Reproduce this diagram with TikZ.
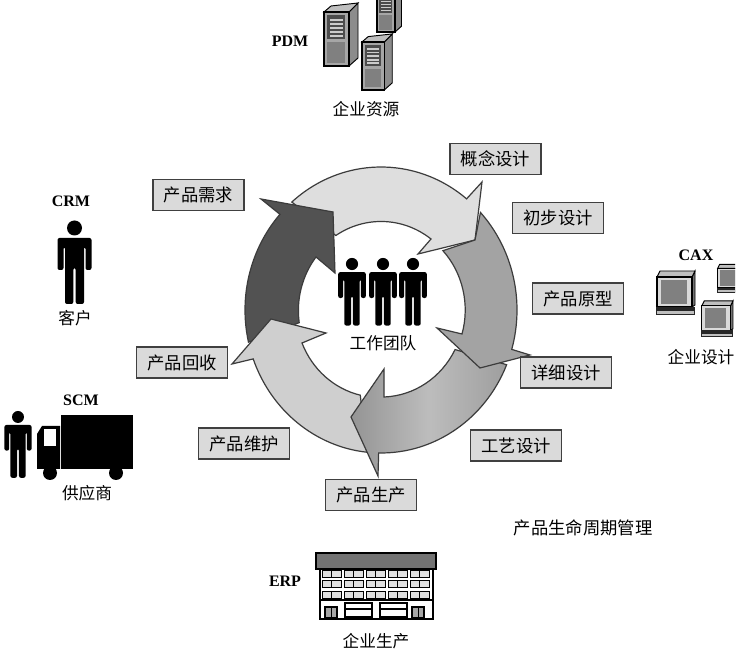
\documentclass[tikz,border=0pt]{standalone}
\usepackage{fontspec}
\setmainfont{Liberation Serif}
\newfontfamily\cjk{Noto Sans CJK SC}
\definecolor{ringedge}{HTML}{3C3C3C}
\definecolor{boxfill}{HTML}{DADADA}
\usetikzlibrary{calc}
\tikzset{
    stagebox/.style={
        draw=black!75,
        fill=boxfill,
        line width=1.1pt,
        minimum width=68pt,
        minimum height=23pt,
        inner sep=0pt,
        font=\cjk\fontsize{13}{15}\selectfont
    },
    systemlabel/.style={
        inner sep=0pt,
        font=\bfseries\fontsize{12}{14}\selectfont
    },
    grouplabel/.style={
        inner sep=0pt,
        font=\cjk\fontsize{12.5}{14}\selectfont
    },
    ringarrow/.style={
        draw=ringedge,
        line width=0.9pt,
        line join=miter
    },
    windowframe/.style={
        draw=black,
        fill=black!12,
        line width=0.7pt
    },
    person/.pic={
        \fill (0,0) circle (7.5);
        \fill[rounded corners=1.5pt] (-17,-10) -- (17,-10) -- (17,-42) -- (11,-42)
            -- (11,-19) -- (9.5,-19) -- (9.5,-76) -- (1.2,-76) -- (1.2,-40)
            -- (-1.2,-40) -- (-1.2,-76) -- (-9.5,-76) -- (-9.5,-19) -- (-11,-19)
            -- (-11,-42) -- (-17,-42) -- cycle;
    },
    servertower/.pic={
        \draw[fill=black!45,line width=0.7pt] (25,0) -- (34,8) -- (34,63) -- (25,54) -- cycle;
        \draw[fill=black!25,line width=0.7pt] (0,54) -- (25,54) -- (34,63) -- (7,60) -- cycle;
        \draw[fill=black!35,line width=0.9pt] (0,0) rectangle (25,54);
        \fill[black!70] (3,27) rectangle (21,51);
        \foreach \stripe in {29,33,37,41,45}
            \fill[black!20] (6,\stripe) rectangle (19,\stripe+2);
        \fill[black!50] (3,3) rectangle (21,24);
    },
    monitorbox/.pic={
        \draw[fill=black!55,line width=0.7pt] (36,8) -- (39,10) -- (39,44) -- (36,38) -- cycle;
        \draw[fill=black!25,line width=0.7pt] (1,38) -- (36,38) -- (39,44) -- (4,44) -- cycle;
        \draw[fill=black!15,line width=0.9pt] (1,8) rectangle (36,38);
        \fill[black!50] (5,11) rectangle (31,35);
        \fill[black!85] (0,0) rectangle (39,8);
        \fill[black!25] (1,1) rectangle (38,4);
    }
}
\begin{document}
\begin{tikzpicture}[x=0.75pt,y=0.75pt]
    \clip (0,0) rectangle (745,656);
    \fill[white] (0,0) rectangle (745,656);

    % ring
    \coordinate (ringc) at (381,346);
    \draw[ringarrow,fill=black!13] ($(ringc)+(131:136 and 143)$)
        arc[start angle=131,end angle=51,x radius=136,y radius=143]
        -- (482,474) -- (475,416) -- (418,402) -- (431,417)
        arc[start angle=53,end angle=123,x radius=83,y radius=87] -- cycle;
    \draw[ringarrow,fill=black!68] ($(ringc)+(193:136 and 143)$)
        arc[start angle=193,end angle=138,x radius=136,y radius=143]
        -- (261,457) -- (333,444) -- (335,383) -- (316,399)
        arc[start angle=142,end angle=188,x radius=83,y radius=87] -- cycle;
    \draw[ringarrow,fill=black!19] ($(ringc)+(-96:136 and 143)$)
        arc[start angle=-96,end angle=-160,x radius=136,y radius=143]
        -- (232,292) -- (271,337) -- (326,323) -- (302,313)
        arc[start angle=-158,end angle=-103,x radius=83,y radius=87] -- cycle;
    \draw[ringarrow,left color=black!42,right color=black!38,middle color=black!26]
        ($(ringc)+(-22.5:136 and 143)$)
        arc[start angle=-22.5,end angle=-91,x radius=136,y radius=143]
        -- (378,180) -- (351,239) -- (384,287) -- (384,259)
        arc[start angle=-88,end angle=-27,x radius=83,y radius=87] -- cycle;
    \draw[ringarrow,fill=black!36] ($(ringc)+(43:136 and 143)$)
        arc[start angle=43,end angle=-16,x radius=136,y radius=143]
        -- (530,301) -- (480,288) -- (437,328) -- (462,322)
        arc[start angle=-16,end angle=43,x radius=83,y radius=87]
        -- (475,416) -- cycle;

    % stages
    \node[stagebox] (concept) at (495.5,497) {概念设计};
    \node[stagebox] (prelim) at (558,438) {初步设计};
    \node[stagebox] (prototype) at (578,357.5) {产品原型};
    \node[stagebox] (detail) at (566,283.5) {详细设计};
    \node[stagebox] (process) at (516,210.5) {工艺设计};
    \node[stagebox] (production) at (371,161) {产品生产};
    \node[stagebox] (maintain) at (244,212.5) {产品维护};
    \node[stagebox] (recycle) at (182,293.5) {产品回收};
    \node[stagebox] (demand) at (198.5,461) {产品需求};

    % team
    \pic[scale=.81] at (352,392) {person};
    \pic[scale=.81] at (383,392) {person};
    \pic[scale=.81] at (413,392) {person};
    \node[grouplabel] (team) at (383,313) {工作团队};

    % resources
    \node[systemlabel] (pdm) at (290,615) {PDM};
    \pic at (324,590) {servertower};
    \pic[scale=.72] at (377,624) {servertower};
    \pic[scale=.89] at (362,566) {servertower};
    \node[grouplabel] (resource) at (366,547) {企业资源};

    % customer
    \node[systemlabel] (crm) at (71,455) {CRM};
    \pic at (74.5,428) {person};
    \node[grouplabel] (customer) at (75,338) {客户};

    % supplier
    \node[systemlabel] (scm) at (81,256) {SCM};
    \pic[scale=.8] at (18,239) {person};
    \fill (61,187) rectangle (133,241);
    \fill (37,187) -- (37,222) -- (42,230) -- (60,230) -- (60,187) -- cycle;
    \fill[white] (44,210) rectangle (56,227);
    \fill (50,183) circle (7);
    \fill (116,183) circle (7);
    \node[grouplabel] (supplier) at (87,163) {供应商};

    % design
    \node[systemlabel] (cax) at (696,401) {CAX};
    \pic at (656,341) {monitorbox};
    \begin{scope}
        \clip (710,350) rectangle (735,400);
        \pic[scale=.65] at (717,363) {monitorbox};
    \end{scope}
    \pic[scale=.82] at (701,319) {monitorbox};
    \node[grouplabel] (design) at (701,299) {企业设计};

    % plant
    \node[systemlabel] (erp) at (285,75) {ERP};
    \draw[fill=black!55,line width=0.8pt] (316,87) rectangle (436,103);
    \draw[fill=white,line width=1.2pt] (320,37) rectangle (433,87);
    \draw[line width=0.9pt] (320,56) -- (433,56);
    \foreach \col in {0,...,4}
        \foreach \row in {0,1,2} {
            \draw[windowframe] (322+22*\col,58+10.5*\row) rectangle ++(19,7);
            \draw[line width=0.9pt] (331.5+22*\col,58+10.5*\row) -- ++(0,7);
        }
    \foreach \doorx in {325,412} {
        \draw[fill=black!35,line width=0.9pt] (\doorx,38) rectangle ++(12,11);
        \draw[line width=0.7pt] (\doorx+6,38) -- ++(0,11);
    }
    \foreach \shopx in {345,380} {
        \draw[line width=0.9pt] (\shopx,39) rectangle ++(27,14);
        \draw[line width=0.9pt] (\shopx,47) -- ++(27,0);
    }
    \node[grouplabel] (plant) at (376,15) {企业生产};

    \node[grouplabel,font=\cjk\fontsize{13}{15}\selectfont] (plm) at (583,128) {产品生命周期管理};
\end{tikzpicture}
\end{document}
